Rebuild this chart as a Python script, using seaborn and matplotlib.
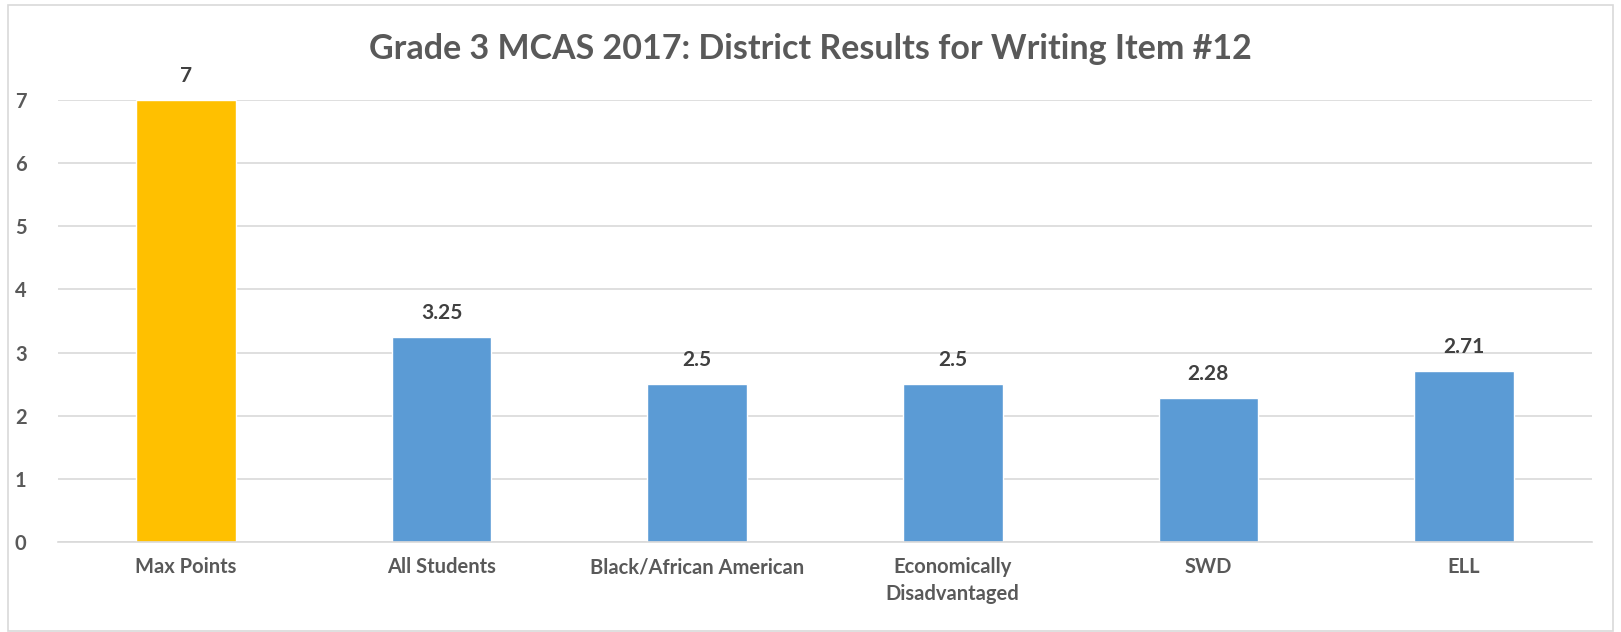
import matplotlib
matplotlib.use("Agg")
import matplotlib.pyplot as plt
import seaborn as sns
import pandas as pd
from matplotlib.patches import Rectangle

categories = ["Max Points", "All Students", "Black/African American",
              "Economically\nDisadvantaged", "SWD", "ELL"]
values = [7, 3.25, 2.5, 2.5, 2.28, 2.71]
value_labels = ["7", "3.25", "2.5", "2.5", "2.28", "2.71"]
colors = ["#FFC000", "#5B9BD5", "#5B9BD5", "#5B9BD5", "#5B9BD5", "#5B9BD5"]
title = "Grade 3 MCAS 2017: District Results for Writing Item #12"

sns.set_theme(style="white")
plt.rcParams['font.family'] = ['Lato', 'DejaVu Sans']

df = pd.DataFrame({"cat": categories, "val": values})

fig = plt.figure(figsize=(16.21, 6.32), dpi=100)
ax = fig.add_axes([0.0358, 0.1424, 0.9462, 0.6994])

sns.barplot(data=df, x="cat", y="val", hue="cat", palette=colors,
            width=0.39, legend=False, ax=ax, saturation=1)

ax.set_ylim(0, 7)
ax.set_xlim(-0.5, len(categories) - 0.5)
ax.set_yticks(range(0, 8))
ax.yaxis.grid(True, color="#D9D9D9", linewidth=1.2)
ax.set_axisbelow(True)
for s in ["top", "right", "left"]:
    ax.spines[s].set_visible(False)
ax.spines["bottom"].set_color("#D9D9D9")
ax.spines["bottom"].set_linewidth(1.2)
ax.set_xlabel("")
ax.set_ylabel("")
ax.tick_params(axis="y", length=0, labelsize=14.5, labelcolor="#595959")
ax.tick_params(axis="x", length=0, pad=11, labelsize=14.5, labelcolor="#595959")
for lab in ax.get_xticklabels() + ax.get_yticklabels():
    lab.set_fontweight("bold")
for lab in ax.get_xticklabels():
    lab.set_linespacing(1.45)
for lab in ax.get_yticklabels():
    lab.set_horizontalalignment("left")
ax.yaxis.set_tick_params(pad=31)

for i, (v, t) in enumerate(zip(values, value_labels)):
    ax.annotate(t, (i, v), xytext=(0, 10), textcoords="offset points",
                ha="center", va="bottom", fontsize=15, fontweight="bold",
                color="#404040")

fig.text(0.5, 0.922, title, ha="center", va="center", fontsize=24.5,
         fontweight="bold", color="#595959")

fig.patches.append(Rectangle((0.005, 0.002), 0.99, 0.99, transform=fig.transFigure,
                             fill=False, edgecolor="#D9D9D9", linewidth=1.2))

fig.savefig("out.png", dpi=100)
